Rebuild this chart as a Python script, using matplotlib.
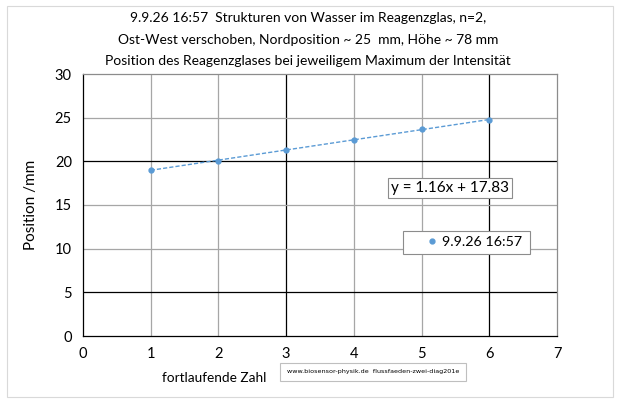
import matplotlib.pyplot as plt
import numpy as np
from matplotlib.patches import Rectangle

# Daten
zahl = [1, 2, 3, 4, 5, 6]
position = [19.05, 20.05, 21.3, 22.4, 23.75, 24.75]
serie = "9.9.26 16:57"
titel = ["9.9.26 16:57  Strukturen von Wasser im Reagenzglas, n=2,",
         "Ost-West verschoben, Nordposition ~ 25  mm, Höhe ~ 78 mm",
         "Position des Reagenzglases bei jeweiligem Maximum der Intensität"]
gleichung = "y = 1.16x + 17.83"
quelle = "www.biosensor-physik.de  flussfaeden-zwei-diag201e"

plt.rcParams['font.family'] = ['Lato', 'DejaVu Sans']

W, H = 623, 403
fig = plt.figure(figsize=(W / 100, H / 100), dpi=100)

# Rahmen um das Diagramm
fig.patches.append(Rectangle((7 / W, 6 / H), 606 / W, 391 / H, transform=fig.transFigure,
                             fill=False, edgecolor='#d9d9d9', linewidth=0.8))

ax = fig.add_axes([83 / W, (H - 336) / H, 474 / W, 262 / H])
ax.set_xlim(0, 7)
ax.set_ylim(0, 30)
ax.set_xticks(range(0, 8))
ax.set_yticks(range(0, 31, 5))

# Gitter (einige Linien dunkel, wie im Original)
for xv in range(1, 7):
    ax.axvline(xv, color='black' if xv in (3, 6) else '#a6a6a6', linewidth=0.9, zorder=1)
for yv in range(5, 30, 5):
    ax.axhline(yv, color='black' if yv in (5, 20) else '#a6a6a6', linewidth=0.9, zorder=1)

for s in ['top', 'right']:
    ax.spines[s].set_color('#8c8c8c')
for s in ['left', 'bottom']:
    ax.spines[s].set_color('black')
for s in ax.spines.values():
    s.set_linewidth(0.9)
ax.tick_params(length=0, labelsize=10.5, pad=8)

# Trendlinie
k, d = np.polyfit(zahl, position, 1)
xs = np.array([zahl[0], zahl[-1]])
ax.plot(xs, k * xs + d, linestyle='--', dashes=(3, 1.5), color='#5b9bd5', linewidth=1.0, zorder=2)
ax.plot(zahl, position, 'o', markersize=3.5, color='#5b9bd5', linestyle='none', label=serie, zorder=3)

ax.text(450 / W, (H - 188) / H, gleichung, transform=fig.transFigure, ha='center', va='center',
        fontsize=11, bbox=dict(boxstyle='square,pad=0.22', facecolor='white', edgecolor='#8c8c8c', linewidth=0.8))

# Legende mit eigenem Rahmen
ax.add_patch(Rectangle((403 / W, (H - 254) / H), 127 / W, 23 / H, transform=fig.transFigure,
                       facecolor='white', edgecolor='#8c8c8c', linewidth=0.8, zorder=5, clip_on=False))
leg = ax.legend(loc='center left', bbox_to_anchor=(426 / W, (H - 242) / H), bbox_transform=fig.transFigure,
                frameon=False, fontsize=10.3, handlelength=0.8, handletextpad=0.35, borderpad=0, borderaxespad=0)
leg.set_zorder(6)

for i, zeile in enumerate(titel):
    fig.text(308 / W, (H - (18 + 21.5 * i)) / H, zeile, ha='center', va='center', fontsize=10.0)

ax.set_ylabel("Position /mm", fontsize=11, labelpad=12)
ax.set_xlabel("fortlaufende Zahl", fontsize=9.8)
ax.xaxis.set_label_coords((214 - 83) / 474, (336 - 378) / 262)
ax.xaxis.label.set_va('center')

fig.text(373 / W, (H - 372) / H, quelle, ha='center', va='center', fontsize=4.6,
         family=['DejaVu Sans'],
         bbox=dict(boxstyle='square,pad=1.0', facecolor='white', edgecolor='#bfbfbf', linewidth=0.8))

fig.savefig("out.png", dpi=100)
